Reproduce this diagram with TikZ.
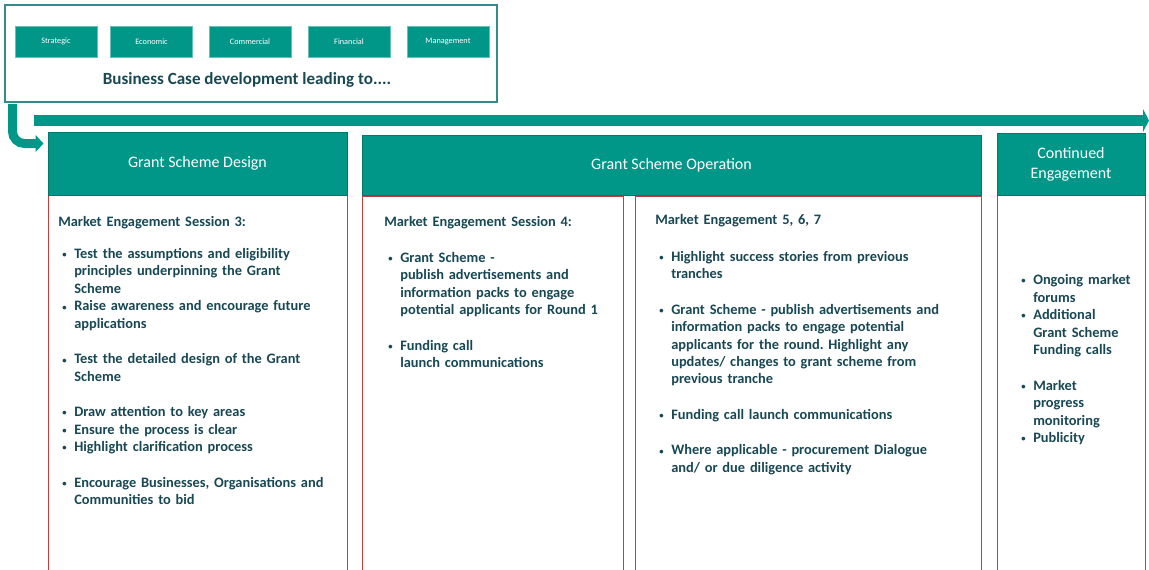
\documentclass[tikz,border=0pt]{standalone}
\usepackage{fontspec}
\setmainfont{Carlito}
\usepackage{xcolor}
\usepackage{graphicx}
\usetikzlibrary{arrows.meta}
\usetikzlibrary{positioning}

\definecolor{gsteal}{RGB}{0,150,136}
\definecolor{gsframe}{RGB}{52,140,138}
\definecolor{gstext}{RGB}{24,72,84}
\definecolor{gsred}{RGB}{196,62,62}

\frenchspacing
\newcommand{\nl}{\hfil\break}
\newcommand{\bitem}[1]{\par\noindent\hangindent=12pt\hangafter=1\hspace*{3pt}\makebox[9pt][l]{\raisebox{0.6pt}{\scalebox{0.6}{\textbullet}}}#1\par}
\newcommand{\bgap}{\vspace{13.5pt}}

\begin{document}
\begin{tikzpicture}[x=0.75pt,y=-0.75pt]
	%\draw[help lines] (0,0) grid (1149,569);
	\useasboundingbox (0,0) rectangle (1149,569);

	\tikzstyle{casebox} = [draw=gsteal!60,fill=gsteal,text=white,minimum width=61.5pt,minimum height=23.5pt,inner sep=0pt,font=\fontsize{6.2}{7}\selectfont]
	\tikzstyle{phase} = [draw=gsteal!80!black,line width=0.4pt,fill=gsteal,text=white,font=\fontsize{12}{15}\selectfont,align=center]
	\tikzstyle{panel} = [draw=gsred,line width=0.7pt,fill=white]
	\tikzstyle{bodytext} = [anchor=north west,inner sep=0pt,text=gstext,align=left,font=\fontsize{10.8}{13.1}\selectfont\bfseries]
	\tikzstyle{flow} = [gsteal,-{Triangle[length=6pt,width=12.5pt]}]

% business case box
\draw[gsframe,line width=0.9pt] (5,5) rectangle (497,102);
\node[casebox] (strat) at (56,41.5) {Strategic};
\node[casebox] (econ) at (151.5,41.5) {Economic};
\node[casebox] (comm) at (250,41.5) {Commercial};
\node[casebox] (fin) at (349,41.5) {Financial};
\node[casebox] (man) at (448,41.5) {Management};
\node[text=gstext,font=\fontsize{12.8}{15}\selectfont\bfseries] (bc) at (247,80) {Business Case development leading to....};

% arrows
\coordinate (bendstart) at (12.5,104);
\coordinate (bendend) at (43.5,143.5);
\draw[flow,line width=6.75pt,rounded corners=9pt] (bendstart) |- (bendend);
\coordinate (timestart) at (34,120.5);
\coordinate (timeend) at (1149,120.5);
\draw[gsteal,line width=8.25pt,-{Triangle[length=4.5pt,width=17pt]}] (timestart) -- (timeend);

% panels
\draw[panel] (48,195) rectangle (347,575);
\draw[panel] (362,196) rectangle (623,575);
\draw[panel] (635,196) rectangle (981,575);
\draw[panel] (997,195) rectangle (1145,575);

% headers
\node[phase,minimum width=224.25pt,minimum height=47.25pt] (design) at (197.5,163.5) {Grant Scheme Design};
\node[phase,minimum width=464.25pt,minimum height=45pt] (oper) at (671.5,165.5) {Grant Scheme Operation};
\node[phase,minimum width=111pt,minimum height=46.5pt] (cont) at (1071,164) {Continued\\Engagement};

% texts
\node[bodytext,text width=215pt] (t3) at (58,216) {Market Engagement Session 3:\par\vspace{11pt}
\bitem{Test the assumptions and eligibility\nl principles underpinning the Grant\nl Scheme}
\bitem{Raise awareness and encourage future\nl applications}
\bgap
\bitem{Test the detailed design of the Grant\nl Scheme}
\bgap
\bitem{Draw attention to key areas}
\bitem{Ensure the process is clear}
\bitem{Highlight clarification process}
\bgap
\bitem{Encourage Businesses, Organisations and\nl Communities to bid}};

\node[bodytext,text width=190pt] (t4) at (384,216) {Market Engagement Session 4:\par\vspace{14pt}
\bitem{Grant Scheme -\nl publish advertisements and\nl information packs to engage\nl potential applicants for Round 1}
\bgap
\bitem{Funding call\nl launch communications}};

\node[bodytext,text width=250pt] (t5) at (655,214) {Market Engagement 5, 6, 7\par\vspace{14.5pt}
\bitem{Highlight success stories from previous\nl tranches}
\bgap
\bitem{Grant Scheme - publish advertisements and\nl information packs to engage potential\nl applicants for the round. Highlight any\nl updates/ changes to grant scheme from\nl previous tranche}
\bgap
\bitem{Funding call launch communications}
\bgap
\bitem{Where applicable - procurement Dialogue\nl and/ or due diligence activity}};

\node[bodytext,text width=105pt] (tc) at (1017,267) {\bitem{Ongoing market\nl forums}
\bitem{Additional\nl Grant Scheme\nl Funding calls}
\bgap
\bitem{Market\nl progress\nl monitoring}
\bitem{Publicity}};
\end{tikzpicture}
\end{document}
